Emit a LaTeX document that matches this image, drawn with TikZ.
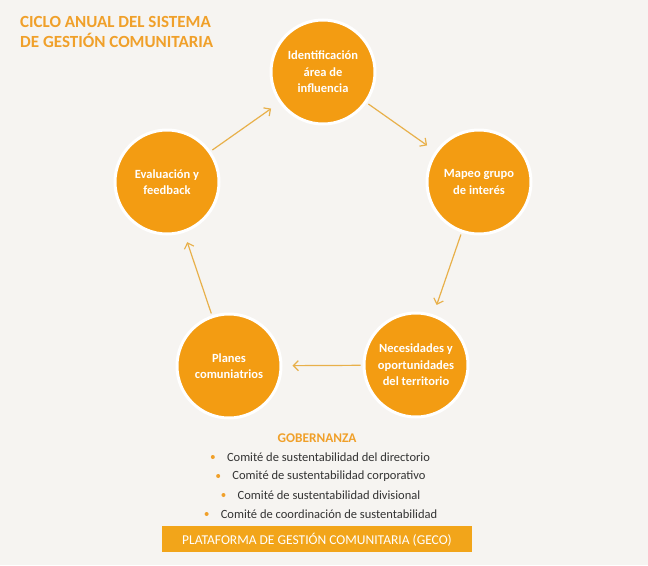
\documentclass[tikz,border=0pt]{standalone}
\usepackage{fontspec}
\setmainfont{Carlito}
\usetikzlibrary{arrows.meta}
\definecolor{bg}{HTML}{F6F4F1}
\definecolor{circ}{HTML}{F39C12}
\definecolor{ttl}{HTML}{F0A02A}
\definecolor{arr}{HTML}{E8B04A}
\definecolor{bar}{HTML}{F2A51A}
\definecolor{txt}{HTML}{333333}
\tikzset{
  stage/.style={circle, fill=circ, draw=white, line width=3pt, minimum size=104pt,
    inner sep=0pt, text=white, font=\fontsize{12.5}{16.5}\selectfont\bfseries, align=center},
  flow/.style={draw=arr, line width=1.2pt, -{Straight Barb[length=5pt,width=10pt]},
    shorten >=10pt, shorten <=2pt},
  govitem/.style={text=txt, font=\fontsize{12.5}{14}\selectfont, inner sep=0pt},
  dot/.style={circle, fill=ttl, inner sep=0pt, minimum size=4pt},
}
\begin{document}
\begin{tikzpicture}[x=1pt,y=-1pt]
\fill[bg] (0,0) rectangle (648,565);
\useasboundingbox (0,0) rectangle (648,565);

\node[anchor=north west, text=ttl, font=\fontsize{17}{20.5}\selectfont\bfseries, align=left, inner sep=0pt]
  (title) at (20,16) {CICLO ANUAL DEL SISTEMA\\DE GESTIÓN COMUNITARIA};

\node[stage] (ident) at (323,72) {Identificación\\área de\\influencia};
\node[stage] (mapeo) at (479,182) {Mapeo grupo\\de interés};
\node[stage] (neces) at (416,365) {Necesidades y\\oportunidades\\del territorio};
\node[stage] (planes) at (229,366) {Planes\\comuniatrios};
\node[stage] (eval) at (167,182) {Evaluación y\\feedback};

\draw[flow] (ident) -- (mapeo);
\draw[flow] (mapeo) -- (neces);
\draw[flow] (neces) -- (planes);
\draw[flow] (planes) -- (eval);
\draw[flow] (eval) -- (ident);

\node[text=ttl, font=\fontsize{13.3}{15}\selectfont\bfseries, inner sep=0pt] (gob) at (317,438) {GOBERNANZA};
\node[govitem] (g1) at (328.5,457) {Comité de sustentabilidad del directorio};
\node[govitem] (g2) at (329,476) {Comité de sustentabilidad corporativo};
\node[govitem] (g3) at (329,495) {Comité de sustentabilidad divisional};
\node[govitem] (g4) at (329,514) {Comité de coordinación de sustentabilidad};
\node[dot] (b1) at ([xshift=-14pt]g1.west) {};
\node[dot] (b2) at ([xshift=-14pt]g2.west) {};
\node[dot] (b3) at ([xshift=-14pt]g3.west) {};
\node[dot] (b4) at ([xshift=-14pt]g4.west) {};

\fill[bar] (162,526) rectangle (472,552);
\node[text=white, font=\fontsize{13.5}{15}\selectfont, inner sep=0pt] (geco) at (317,539.5)
  {PLATAFORMA DE GESTIÓN COMUNITARIA (GECO)};
\end{tikzpicture}
\end{document}
